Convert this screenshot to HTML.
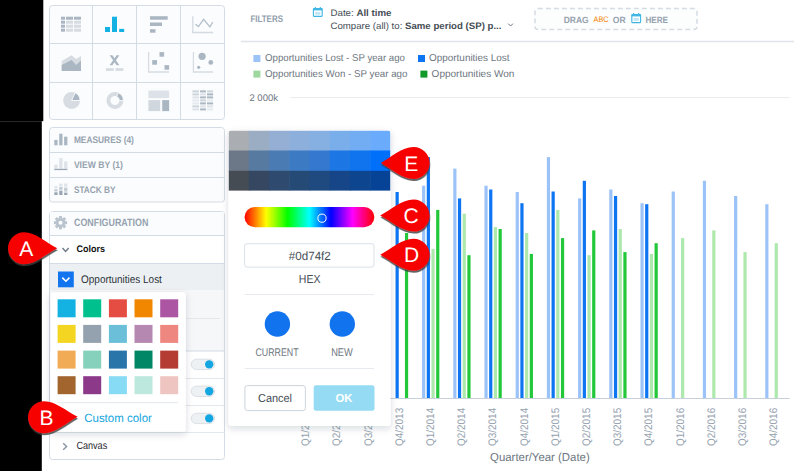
<!DOCTYPE html>
<html><head><meta charset="utf-8">
<style>
html,body{margin:0;padding:0;background:#fff;}
body{width:800px;height:471px;overflow:hidden;position:relative;font-family:"Liberation Sans", sans-serif;}
svg{position:absolute;left:0;top:0;}
text{font-family:"Liberation Sans", sans-serif;text-rendering:geometricPrecision;}
</style></head>
<body>
<svg width="800" height="471" viewBox="0 0 800 471">
<defs>
  <filter id="pshadow" x="-20%" y="-20%" width="140%" height="140%">
    <feDropShadow dx="0" dy="2.5" stdDeviation="3.5" flood-color="#1c2a38" flood-opacity="0.16"/>
  </filter>
  <filter id="cshadow" x="-20%" y="-20%" width="150%" height="150%">
    <feDropShadow dx="0.4" dy="2" stdDeviation="0.55" flood-color="#3a3a3a" flood-opacity="0.8"/>
  </filter>
  <linearGradient id="hue" x1="0" x2="1" y1="0" y2="0">
    <stop offset="0" stop-color="#ff0000"/>
    <stop offset="0.1667" stop-color="#ffff00"/>
    <stop offset="0.3333" stop-color="#00ff00"/>
    <stop offset="0.5" stop-color="#00ffff"/>
    <stop offset="0.6667" stop-color="#0000ff"/>
    <stop offset="0.8333" stop-color="#ff00ff"/>
    <stop offset="1" stop-color="#ff0000"/>
  </linearGradient>
  <clipPath id="shadeclip"><path d="M228.5,190.8 L228.5,133.5 A3,3 0 0 1 231.5,130.5 L387.5,130.5 A3,3 0 0 1 390.5,133.5 L390.5,190.8 Z"/></clipPath>
</defs>

<!-- black strip -->
<rect x="0" y="0" width="43.3" height="121.2" fill="#000"/>
<rect x="0" y="121.2" width="41.8" height="349.8" fill="#000"/>

<!-- ============ LEFT PANEL ============ -->
<!-- chart type grid -->
<rect x="49.5" y="5.5" width="175" height="114" rx="3" fill="#fbfcfd" stroke="#d3dce5"/>
<g stroke="#d3dce5">
  <line x1="92.5" y1="5.5" x2="92.5" y2="119.5"/>
  <line x1="136.5" y1="5.5" x2="136.5" y2="119.5"/>
  <line x1="180.5" y1="5.5" x2="180.5" y2="119.5"/>
  <line x1="49.5" y1="43.5" x2="224.5" y2="43.5"/>
  <line x1="49.5" y1="82.5" x2="224.5" y2="82.5"/>
</g>
<!-- table icon -->
<g>
  <rect x="61" y="16.7" width="4" height="3" fill="#aab7c3"/>
  <rect x="66" y="16.7" width="7" height="3" fill="#aab7c3"/>
  <rect x="74" y="16.7" width="7" height="3" fill="#aab7c3"/>
  <rect x="61" y="20.7" width="4" height="3" fill="#aab7c3"/>
  <rect x="66" y="20.7" width="7" height="3" fill="#d6dce2"/>
  <rect x="74" y="20.7" width="7" height="3" fill="#d6dce2"/>
  <rect x="61" y="24.7" width="4" height="3" fill="#aab7c3"/>
  <rect x="66" y="24.7" width="7" height="3" fill="#d6dce2"/>
  <rect x="74" y="24.7" width="7" height="3" fill="#d6dce2"/>
  <rect x="61" y="28.7" width="4" height="3" fill="#aab7c3"/>
  <rect x="66" y="28.7" width="7" height="3" fill="#d6dce2"/>
  <rect x="74" y="28.7" width="7" height="3" fill="#d6dce2"/>
</g>
<!-- column icon -->
<g fill="#14b2e2">
  <rect x="105" y="27" width="5" height="5"/>
  <rect x="112" y="16.7" width="5" height="15.3"/>
  <rect x="119.2" y="28.9" width="5" height="3.1"/>
</g>
<!-- bar icon -->
<g fill="#aab7c3">
  <rect x="150" y="16.2" width="17.7" height="3.5"/>
  <rect x="150" y="22.5" width="12" height="3.5"/>
  <rect x="150" y="29.2" width="5.5" height="3.5"/>
</g>
<!-- line icon -->
<g fill="none" stroke-width="1.3">
  <polyline points="192.8,16.2 192.8,32.5 213.1,32.5" stroke="#d3dae1"/>
  <polyline points="195.5,24.3 198.4,26.6 203.6,19.3 209.9,26.9 212.8,22" stroke="#b3bfca"/>
</g>
<!-- area icon -->
<polygon points="61.7,61.1 71.6,55.2 76.1,58.9 81,56.1 81,70.9 61.7,70.9" fill="#d6dce2"/>
<polygon points="61.7,65 71.6,60 76.1,65 81,60.5 81,70.9 61.7,70.9" fill="#aab7c3"/>
<!-- headline icon -->
<polygon points="109.6,55.2 112.4,55.2 119.4,65.3 116.6,65.3" fill="#aab7c3"/><polygon points="116.6,55.2 119.4,55.2 112.4,65.3 109.6,65.3" fill="#aab7c3"/>
<rect x="106" y="68.1" width="7.8" height="2.8" fill="#d6dce2"/>
<rect x="115.5" y="68.1" width="7.9" height="2.8" fill="#d6dce2"/>
<!-- scatter icon -->
<g fill="none" stroke="#d6dce2" stroke-width="1.3">
  <polyline points="148.6,52.1 148.6,72 169.1,72"/>
  <polyline points="193.4,52.1 193.4,72 213.1,72"/>
</g>
<g fill="#aab7c3">
  <rect x="159.5" y="52.1" width="4.6" height="4.6"/>
  <rect x="152.2" y="60.1" width="4.8" height="4.6"/>
  <rect x="164.5" y="65.1" width="4.6" height="4.6"/>
  <circle cx="202.1" cy="56.3" r="3.6"/>
  <circle cx="210.8" cy="62.4" r="2.4"/>
  <circle cx="198.7" cy="67.3" r="1.6"/>
</g>
<!-- pie icon -->
<circle cx="71.6" cy="100.5" r="8.45" fill="#d6dce2"/>
<path d="M71.6,100.5 L75.17,92.84 A8.45,8.45 0 0 1 80.05,100.5 Z" fill="#aab7c3" stroke="#fbfcfd" stroke-width="0.9"/>
<!-- donut icon -->
<circle cx="114.9" cy="100.5" r="6.5" fill="none" stroke="#d6dce2" stroke-width="3.9"/>
<path d="M118.47,92.84 A8.45,8.45 0 0 1 123.35,100.5 L119.45,100.5 A4.55,4.55 0 0 0 116.82,96.38 Z" fill="#aab7c3" stroke="#fbfcfd" stroke-width="0.8"/>
<!-- treemap icon -->
<rect x="148.4" y="90.6" width="20.7" height="7.5" fill="#dde2e8"/>
<rect x="148.4" y="100.1" width="11.8" height="11" fill="#d0d7de"/>
<rect x="162.2" y="100.1" width="6.9" height="11" fill="#aab7c3"/>
<!-- heatmap icon -->
<g>
  <rect x="192.4" y="90.4" width="6.6" height="2" fill="#ccd4dc"/><rect x="200.1" y="90.4" width="5.8" height="2" fill="#aab7c3"/><rect x="207" y="90.4" width="6.1" height="2" fill="#ccd4dc"/>
  <rect x="192.4" y="93.4" width="6.6" height="2" fill="#ccd4dc"/><rect x="200.1" y="93.4" width="5.8" height="2" fill="#dde2e8"/><rect x="207" y="93.4" width="6.1" height="2" fill="#aab7c3"/>
  <rect x="192.4" y="96.4" width="6.6" height="2" fill="#dde2e8"/><rect x="200.1" y="96.4" width="5.8" height="2" fill="#aab7c3"/><rect x="207" y="96.4" width="6.1" height="2" fill="#aab7c3"/>
  <rect x="192.4" y="99.4" width="6.6" height="2" fill="#e6eaee"/><rect x="200.1" y="99.4" width="5.8" height="2" fill="#ccd4dc"/><rect x="207" y="99.4" width="6.1" height="2" fill="#e6eaee"/>
  <rect x="192.4" y="102.4" width="6.6" height="2" fill="#e6eaee"/><rect x="200.1" y="102.4" width="5.8" height="2" fill="#aab7c3"/><rect x="207" y="102.4" width="6.1" height="2" fill="#aab7c3"/>
  <rect x="192.4" y="105.4" width="6.6" height="2" fill="#ccd4dc"/><rect x="200.1" y="105.4" width="5.8" height="2" fill="#dde2e8"/><rect x="207" y="105.4" width="6.1" height="2" fill="#dde2e8"/>
  <rect x="192.4" y="108.4" width="6.6" height="2" fill="#dde2e8"/><rect x="200.1" y="108.4" width="5.8" height="2" fill="#aab7c3"/><rect x="207" y="108.4" width="6.1" height="2" fill="#e6eaee"/>
</g>

<!-- measures box -->
<rect x="49.5" y="127.5" width="175" height="74.5" rx="3" fill="#fbfcfd" stroke="#d3dce5"/>
<line x1="49.5" y1="152.5" x2="224.5" y2="152.5" stroke="#d3dce5"/>
<line x1="49.5" y1="177.5" x2="224.5" y2="177.5" stroke="#d3dce5"/>
<g fill="#aab7c3">
  <rect x="54.3" y="139.9" width="3.3" height="5.4"/>
  <rect x="59.2" y="133.7" width="3.3" height="11.6"/>
  <rect x="64.1" y="136.7" width="3.3" height="8.6"/>
</g>
<g fill="#dfe4ea">
  <rect x="54.3" y="164.7" width="3.3" height="4"/>
  <rect x="59.2" y="158.1" width="3.3" height="10.6"/>
  <rect x="64.1" y="161.3" width="3.3" height="7.4"/>
</g>
<rect x="54.3" y="168.8" width="13.1" height="1.3" fill="#9aa7b4"/>
<g>
  <rect x="54.3" y="186.2" width="3.3" height="2" fill="#dfe4ea"/><rect x="54.3" y="189.2" width="3.3" height="2.2" fill="#c3ccd5"/><rect x="54.3" y="192.3" width="3.3" height="2.7" fill="#9aa7b4"/>
  <rect x="59.2" y="183.6" width="3.3" height="2.4" fill="#dfe4ea"/><rect x="59.2" y="186.8" width="3.3" height="3" fill="#c3ccd5"/><rect x="59.2" y="190.6" width="3.3" height="4.4" fill="#9aa7b4"/>
  <rect x="64.1" y="183.4" width="3.3" height="3.3" fill="#dfe4ea"/><rect x="64.1" y="187.6" width="3.3" height="4" fill="#c3ccd5"/><rect x="64.1" y="192.6" width="3.3" height="2.4" fill="#9aa7b4"/>
</g>
<g font-size="9.6" font-weight="700" fill="#95a2af">
  <text x="73.9" y="142.7" textLength="60" lengthAdjust="spacingAndGlyphs">MEASURES (4)</text>
  <text x="73.9" y="167.7" textLength="49" lengthAdjust="spacingAndGlyphs">VIEW BY (1)</text>
  <text x="73.9" y="193.2" textLength="41.6" lengthAdjust="spacingAndGlyphs">STACK BY</text>
</g>

<!-- config box -->
<rect x="49.5" y="211.5" width="175" height="248" rx="3" fill="#fff" stroke="#d3dce5"/>
<rect x="50" y="212" width="174" height="23" fill="#fbfcfd"/>
<rect x="50" y="264" width="174" height="26" fill="#edf0f3"/>
<rect x="50" y="290" width="174" height="61" fill="#f5f7f9"/>
<g stroke="#d3dce5">
  <line x1="49.5" y1="235.5" x2="224.5" y2="235.5"/>
  <line x1="49.5" y1="263.5" x2="224.5" y2="263.5"/>
  <line x1="57" y1="318.5" x2="220" y2="318.5" stroke="#e3e8ed"/>
  <line x1="49.5" y1="351" x2="224.5" y2="351"/>
  <line x1="49.5" y1="378.5" x2="224.5" y2="378.5" stroke="#e3e8ed"/>
  <line x1="49.5" y1="405.5" x2="224.5" y2="405.5" stroke="#e3e8ed"/>
  <line x1="49.5" y1="432.5" x2="224.5" y2="432.5" stroke="#e3e8ed"/>
</g>
<!-- gear -->
<g transform="translate(60.5,222.7)" fill="#b9c4ce">
  <circle r="4.8"/>
  <g>
    <rect x="-1.5" y="-6.6" width="3" height="13.2"/>
    <rect x="-1.5" y="-6.6" width="3" height="13.2" transform="rotate(45)"/>
    <rect x="-1.5" y="-6.6" width="3" height="13.2" transform="rotate(90)"/>
    <rect x="-1.5" y="-6.6" width="3" height="13.2" transform="rotate(135)"/>
  </g>
  <circle r="2" fill="#fbfcfd"/>
</g>
<text x="74" y="226.4" font-size="10.6" font-weight="700" fill="#95a2af" textLength="74.3" lengthAdjust="spacingAndGlyphs">CONFIGURATION</text>
<polyline points="62.5,248 65.6,251.4 68.7,248" fill="none" stroke="#6d7a88" stroke-width="1.4"/>
<text x="76.4" y="252.4" font-size="9.6" font-weight="700" fill="#111" textLength="28.5" lengthAdjust="spacingAndGlyphs">Colors</text>
<rect x="58" y="271.5" width="15.8" height="15.8" fill="#1274ef"/>
<polyline points="62.3,277.6 65.9,281.2 69.5,277.6" fill="none" stroke="#fff" stroke-width="1.6"/>
<text x="81.1" y="283.1" font-size="11" fill="#2a3038" textLength="80.8" lengthAdjust="spacingAndGlyphs">Opportunities Lost</text>
<!-- toggles -->
<g>
  <rect x="191.2" y="359.2" width="23.4" height="10.4" rx="5.2" fill="#eef1f4" stroke="#d3dae1" stroke-width="0.8"/>
  <circle cx="209.2" cy="364.4" r="4.2" fill="#14a6e0"/>
  <rect x="191.2" y="386.1" width="23.4" height="10.4" rx="5.2" fill="#eef1f4" stroke="#d3dae1" stroke-width="0.8"/>
  <circle cx="209.2" cy="391.3" r="4.2" fill="#14a6e0"/>
  <rect x="191.2" y="413.2" width="23.4" height="10.4" rx="5.2" fill="#eef1f4" stroke="#d3dae1" stroke-width="0.8"/>
  <circle cx="209.2" cy="418.4" r="4.2" fill="#14a6e0"/>
</g>
<polyline points="63.2,443.2 66.6,446.5 63.2,449.8" fill="none" stroke="#8593a1" stroke-width="1.4"/>
<text x="76.4" y="449.4" font-size="10.5" fill="#1f252b" textLength="30.8" lengthAdjust="spacingAndGlyphs">Canvas</text>

<!-- swatch popup -->
<rect x="50.5" y="292.3" width="135.3" height="139.5" rx="3" fill="#fff" filter="url(#pshadow)"/>
<g>
  <rect x="57.6" y="299.3" width="18" height="18" fill="#14b2e2"/>
  <rect x="83.2" y="299.3" width="18" height="18" fill="#00c18d"/>
  <rect x="108.9" y="299.3" width="18" height="18" fill="#e54d42"/>
  <rect x="134.5" y="299.3" width="18" height="18" fill="#f18600"/>
  <rect x="160.2" y="299.3" width="18" height="18" fill="#ab55a3"/>
  <rect x="57.6" y="324.9" width="18" height="18" fill="#f4d521"/>
  <rect x="83.2" y="324.9" width="18" height="18" fill="#94a1ae"/>
  <rect x="108.9" y="324.9" width="18" height="18" fill="#6bbfd8"/>
  <rect x="134.5" y="324.9" width="18" height="18" fill="#b588b1"/>
  <rect x="160.2" y="324.9" width="18" height="18" fill="#ee8780"/>
  <rect x="57.6" y="350.6" width="18" height="18" fill="#f1ab54"/>
  <rect x="83.2" y="350.6" width="18" height="18" fill="#85d1bc"/>
  <rect x="108.9" y="350.6" width="18" height="18" fill="#2975aa"/>
  <rect x="134.5" y="350.6" width="18" height="18" fill="#028766"/>
  <rect x="160.2" y="350.6" width="18" height="18" fill="#b53c33"/>
  <rect x="57.6" y="376.2" width="18" height="18" fill="#a3652e"/>
  <rect x="83.2" y="376.2" width="18" height="18" fill="#8c398a"/>
  <rect x="108.9" y="376.2" width="18" height="18" fill="#88dbf4"/>
  <rect x="134.5" y="376.2" width="18" height="18" fill="#bde8de"/>
  <rect x="160.2" y="376.2" width="18" height="18" fill="#efc5c2"/>
</g>
<line x1="57.6" y1="402.7" x2="178.2" y2="402.7" stroke="#e3e8ed"/>
<text x="84.2" y="421.9" font-size="11.9" fill="#14a6e0" textLength="67.7" lengthAdjust="spacingAndGlyphs">Custom color</text>

<!-- ============ FILTER BAR ============ -->
<line x1="241" y1="41.5" x2="794" y2="41.5" stroke="#dde4eb" stroke-width="1.4"/>
<text x="250.4" y="21.6" font-size="9.6" font-weight="700" fill="#919eab" textLength="32.6" lengthAdjust="spacingAndGlyphs">FILTERS</text>
<!-- calendar icon -->
<g fill="none" stroke="#3fb6e6" stroke-width="1.1">
  <rect x="313.4" y="8.6" width="8.8" height="7.8" rx="0.6"/>
  <line x1="315.3" y1="7" x2="315.3" y2="9"/>
  <line x1="320.3" y1="7" x2="320.3" y2="9"/>
</g>
<rect x="313.4" y="8.6" width="8.8" height="1.8" fill="#3fb6e6"/>
<rect x="315.2" y="12" width="5.2" height="2.8" fill="#bfe6f6"/>
<text x="330.5" y="15.9" font-size="9.4" fill="#464e56" textLength="61" lengthAdjust="spacingAndGlyphs">Date: <tspan font-weight="700">All time</tspan></text>
<text x="330.5" y="28.5" font-size="9.4" fill="#464e56" textLength="171" lengthAdjust="spacingAndGlyphs">Compare (all) to: <tspan font-weight="700">Same period (SP) p...</tspan></text>
<polyline points="508.2,23.6 510.6,26 513,23.6" fill="none" stroke="#6d7680" stroke-width="1"/>
<!-- drag box -->
<rect x="535" y="8.5" width="162" height="21" rx="3" fill="#fcfdfd" stroke="#d3dbe3" stroke-width="1.5" stroke-dasharray="4.8 3.2"/>
<g font-size="9" font-weight="700" fill="#95a2af">
  <text x="563.7" y="22.5" textLength="25" lengthAdjust="spacingAndGlyphs">DRAG</text>
  <text x="612.8" y="22.5" textLength="12.8" lengthAdjust="spacingAndGlyphs">OR</text>
  <text x="645.4" y="22.5" textLength="22.5" lengthAdjust="spacingAndGlyphs">HERE</text>
</g>
<text x="593.6" y="22.2" font-size="8" fill="#f18600" textLength="15" lengthAdjust="spacingAndGlyphs">ABC</text>
<g fill="none" stroke="#3fb6e6" stroke-width="1.1">
  <rect x="631.8" y="14.6" width="8.8" height="8" rx="0.6"/>
  <line x1="633.7" y1="13" x2="633.7" y2="15"/>
  <line x1="638.7" y1="13" x2="638.7" y2="15"/>
</g>
<rect x="631.8" y="14.6" width="8.8" height="1.8" fill="#3fb6e6"/>
<rect x="633.6" y="18" width="5.2" height="2.8" fill="#bfe6f6"/>

<!-- ============ LEGEND ============ -->
<rect x="253.4" y="55" width="7" height="7" fill="#9cc3f8"/>
<rect x="253.4" y="70.6" width="7" height="7" fill="#9fd89f"/>
<rect x="418" y="55" width="7" height="7" fill="#0d74f2"/>
<rect x="420.4" y="70.6" width="7" height="7" fill="#119a2a"/>
<g font-size="10" fill="#6d7680">
  <text x="265" y="61.3" textLength="140" lengthAdjust="spacingAndGlyphs">Opportunities Lost - SP year ago</text>
  <text x="265" y="77.3" textLength="142.4" lengthAdjust="spacingAndGlyphs">Opportunities Won - SP year ago</text>
  <text x="429" y="61.3" textLength="80.6" lengthAdjust="spacingAndGlyphs">Opportunities Lost</text>
  <text x="431.6" y="77.3" textLength="82.8" lengthAdjust="spacingAndGlyphs">Opportunities Won</text>
</g>

<!-- ============ CHART ============ -->
<text x="249.4" y="101" font-size="9.5" fill="#6d7680" textLength="28.6" lengthAdjust="spacingAndGlyphs">2 000k</text>
<line x1="290" y1="97.5" x2="790" y2="97.5" stroke="#ebeef1"/>
<g>
<rect x="301.95" y="185.7" width="3.2" height="212.3" fill="#0d74f2"/>
<rect x="311.35" y="248.9" width="3.2" height="149.1" fill="#22c83a"/>
<rect x="333.15" y="168.6" width="3.2" height="229.4" fill="#0d74f2"/>
<rect x="342.55" y="213.7" width="3.2" height="184.3" fill="#22c83a"/>
<rect x="364.35" y="185.7" width="3.2" height="212.3" fill="#0d74f2"/>
<rect x="373.75" y="227.0" width="3.2" height="171.0" fill="#22c83a"/>
<rect x="395.55" y="192.0" width="3.2" height="206.0" fill="#0d74f2"/>
<rect x="404.95" y="233.0" width="3.2" height="165.0" fill="#22c83a"/>
<rect x="422.05" y="185.7" width="3.2" height="212.3" fill="#9cc3f8"/>
<rect x="426.75" y="157.1" width="3.2" height="240.9" fill="#0d74f2"/>
<rect x="431.45" y="248.9" width="3.2" height="149.1" fill="#ade8ad"/>
<rect x="436.15" y="209.9" width="3.2" height="188.1" fill="#22c83a"/>
<rect x="453.25" y="168.6" width="3.2" height="229.4" fill="#9cc3f8"/>
<rect x="457.95" y="198.4" width="3.2" height="199.6" fill="#0d74f2"/>
<rect x="462.65" y="213.7" width="3.2" height="184.3" fill="#ade8ad"/>
<rect x="467.35" y="255.2" width="3.2" height="142.8" fill="#22c83a"/>
<rect x="484.45" y="185.7" width="3.2" height="212.3" fill="#9cc3f8"/>
<rect x="489.15" y="189.5" width="3.2" height="208.5" fill="#0d74f2"/>
<rect x="493.85" y="227.0" width="3.2" height="171.0" fill="#ade8ad"/>
<rect x="498.55" y="229.0" width="3.2" height="169.0" fill="#22c83a"/>
<rect x="515.65" y="192.0" width="3.2" height="206.0" fill="#9cc3f8"/>
<rect x="520.35" y="203.2" width="3.2" height="194.8" fill="#0d74f2"/>
<rect x="525.05" y="233.0" width="3.2" height="165.0" fill="#ade8ad"/>
<rect x="529.75" y="253.9" width="3.2" height="144.1" fill="#22c83a"/>
<rect x="546.85" y="157.1" width="3.2" height="240.9" fill="#9cc3f8"/>
<rect x="551.55" y="191.5" width="3.2" height="206.5" fill="#0d74f2"/>
<rect x="556.25" y="209.9" width="3.2" height="188.1" fill="#ade8ad"/>
<rect x="560.95" y="238.1" width="3.2" height="159.9" fill="#22c83a"/>
<rect x="578.05" y="198.4" width="3.2" height="199.6" fill="#9cc3f8"/>
<rect x="582.75" y="180.8" width="3.2" height="217.2" fill="#0d74f2"/>
<rect x="587.45" y="255.2" width="3.2" height="142.8" fill="#ade8ad"/>
<rect x="592.15" y="230.4" width="3.2" height="167.6" fill="#22c83a"/>
<rect x="609.25" y="189.5" width="3.2" height="208.5" fill="#9cc3f8"/>
<rect x="613.95" y="196.0" width="3.2" height="202.0" fill="#0d74f2"/>
<rect x="618.65" y="229.0" width="3.2" height="169.0" fill="#ade8ad"/>
<rect x="623.35" y="252.1" width="3.2" height="145.9" fill="#22c83a"/>
<rect x="640.45" y="203.2" width="3.2" height="194.8" fill="#9cc3f8"/>
<rect x="645.15" y="204.2" width="3.2" height="193.8" fill="#0d74f2"/>
<rect x="649.85" y="253.9" width="3.2" height="144.1" fill="#ade8ad"/>
<rect x="654.55" y="243.2" width="3.2" height="154.8" fill="#22c83a"/>
<rect x="671.65" y="191.5" width="3.2" height="206.5" fill="#9cc3f8"/>
<rect x="681.05" y="238.1" width="3.2" height="159.9" fill="#ade8ad"/>
<rect x="702.85" y="180.8" width="3.2" height="217.2" fill="#9cc3f8"/>
<rect x="712.25" y="230.4" width="3.2" height="167.6" fill="#ade8ad"/>
<rect x="734.05" y="196.0" width="3.2" height="202.0" fill="#9cc3f8"/>
<rect x="743.45" y="252.1" width="3.2" height="145.9" fill="#ade8ad"/>
<rect x="765.25" y="204.2" width="3.2" height="193.8" fill="#9cc3f8"/>
<rect x="774.65" y="243.2" width="3.2" height="154.8" fill="#ade8ad"/>
</g>
<line x1="290" y1="398.5" x2="789.6" y2="398.5" stroke="#c5d0dc"/>
<g font-size="11" fill="#95a2af">
<text x="0" y="0" transform="translate(309.2,446) rotate(-90)" textLength="38.2" lengthAdjust="spacingAndGlyphs">Q1/2013</text>
<text x="0" y="0" transform="translate(340.4,446) rotate(-90)" textLength="38.2" lengthAdjust="spacingAndGlyphs">Q2/2013</text>
<text x="0" y="0" transform="translate(371.6,446) rotate(-90)" textLength="38.2" lengthAdjust="spacingAndGlyphs">Q3/2013</text>
<text x="0" y="0" transform="translate(402.8,446) rotate(-90)" textLength="38.2" lengthAdjust="spacingAndGlyphs">Q4/2013</text>
<text x="0" y="0" transform="translate(434.0,446) rotate(-90)" textLength="38.2" lengthAdjust="spacingAndGlyphs">Q1/2014</text>
<text x="0" y="0" transform="translate(465.2,446) rotate(-90)" textLength="38.2" lengthAdjust="spacingAndGlyphs">Q2/2014</text>
<text x="0" y="0" transform="translate(496.4,446) rotate(-90)" textLength="38.2" lengthAdjust="spacingAndGlyphs">Q3/2014</text>
<text x="0" y="0" transform="translate(527.6,446) rotate(-90)" textLength="38.2" lengthAdjust="spacingAndGlyphs">Q4/2014</text>
<text x="0" y="0" transform="translate(558.8,446) rotate(-90)" textLength="38.2" lengthAdjust="spacingAndGlyphs">Q1/2015</text>
<text x="0" y="0" transform="translate(590.0,446) rotate(-90)" textLength="38.2" lengthAdjust="spacingAndGlyphs">Q2/2015</text>
<text x="0" y="0" transform="translate(621.2,446) rotate(-90)" textLength="38.2" lengthAdjust="spacingAndGlyphs">Q3/2015</text>
<text x="0" y="0" transform="translate(652.4,446) rotate(-90)" textLength="38.2" lengthAdjust="spacingAndGlyphs">Q4/2015</text>
<text x="0" y="0" transform="translate(683.6,446) rotate(-90)" textLength="38.2" lengthAdjust="spacingAndGlyphs">Q1/2016</text>
<text x="0" y="0" transform="translate(714.8,446) rotate(-90)" textLength="38.2" lengthAdjust="spacingAndGlyphs">Q2/2016</text>
<text x="0" y="0" transform="translate(746.0,446) rotate(-90)" textLength="38.2" lengthAdjust="spacingAndGlyphs">Q3/2016</text>
<text x="0" y="0" transform="translate(777.2,446) rotate(-90)" textLength="38.2" lengthAdjust="spacingAndGlyphs">Q4/2016</text>
</g>
<text x="490.1" y="460.6" font-size="11.6" fill="#6d7680" textLength="99.6" lengthAdjust="spacingAndGlyphs">Quarter/Year (Date)</text>

<!-- ============ COLOR PICKER POPUP ============ -->
<rect x="228.5" y="130.5" width="162" height="295.5" rx="3" fill="#fff" filter="url(#pshadow)"/>
<g clip-path="url(#shadeclip)">
  <rect x="228.5" y="130.5" width="20.85" height="20.60" fill="#aaaeb3"/>
  <rect x="248.75" y="130.5" width="20.85" height="20.60" fill="#9aadc3"/>
  <rect x="269.0" y="130.5" width="20.85" height="20.60" fill="#94aed4"/>
  <rect x="289.25" y="130.5" width="20.85" height="20.60" fill="#8cafdc"/>
  <rect x="309.5" y="130.5" width="20.85" height="20.60" fill="#86b0e2"/>
  <rect x="329.75" y="130.5" width="20.85" height="20.60" fill="#7aaeea"/>
  <rect x="350.0" y="130.5" width="20.85" height="20.60" fill="#72acf2"/>
  <rect x="370.25" y="130.5" width="20.25" height="20.60" fill="#6aabfc"/>
  <rect x="228.5" y="150.5" width="20.85" height="20.90" fill="#6c7887"/>
  <rect x="248.75" y="150.5" width="20.85" height="20.90" fill="#577aa1"/>
  <rect x="269.0" y="150.5" width="20.85" height="20.90" fill="#4a7bb3"/>
  <rect x="289.25" y="150.5" width="20.85" height="20.90" fill="#3d7ac4"/>
  <rect x="309.5" y="150.5" width="20.85" height="20.90" fill="#3478cf"/>
  <rect x="329.75" y="150.5" width="20.85" height="20.90" fill="#1c76e3"/>
  <rect x="350.0" y="150.5" width="20.85" height="20.90" fill="#0f74ed"/>
  <rect x="370.25" y="150.5" width="20.25" height="20.90" fill="#0070fa"/>
  <rect x="228.5" y="170.8" width="20.85" height="20.00" fill="#464c54"/>
  <rect x="248.75" y="170.8" width="20.85" height="20.00" fill="#364761"/>
  <rect x="269.0" y="170.8" width="20.85" height="20.00" fill="#2e4a6e"/>
  <rect x="289.25" y="170.8" width="20.85" height="20.00" fill="#264a76"/>
  <rect x="309.5" y="170.8" width="20.85" height="20.00" fill="#1f4a80"/>
  <rect x="329.75" y="170.8" width="20.85" height="20.00" fill="#164687"/>
  <rect x="350.0" y="170.8" width="20.85" height="20.00" fill="#0d458f"/>
  <rect x="370.25" y="170.8" width="20.25" height="20.00" fill="#064397"/>
</g>
<rect x="244.6" y="207.1" width="129.7" height="20.1" rx="10" fill="url(#hue)"/>
<circle cx="322" cy="218.2" r="4.1" fill="none" stroke="#fff" stroke-width="1"/>
<rect x="244.6" y="243.7" width="129.4" height="23.4" rx="2.5" fill="#fff" stroke="#d9e0e7"/>
<text x="288.8" y="259.7" font-size="12" fill="#464e56" textLength="42" lengthAdjust="spacingAndGlyphs">#0d74f2</text>
<text x="298.8" y="283.3" font-size="11.6" fill="#464e56" textLength="21.7" lengthAdjust="spacingAndGlyphs">HEX</text>
<line x1="244.7" y1="294.5" x2="374" y2="294.5" stroke="#e6eaee"/>
<circle cx="277.4" cy="324" r="12.7" fill="#1273ee"/>
<circle cx="342.3" cy="324" r="12.7" fill="#1273ee"/>
<text x="255.4" y="355.9" font-size="11.2" fill="#6d7680" textLength="43.2" lengthAdjust="spacingAndGlyphs">CURRENT</text>
<text x="331.2" y="355.9" font-size="11.2" fill="#6d7680" textLength="21.6" lengthAdjust="spacingAndGlyphs">NEW</text>
<line x1="244.7" y1="368.5" x2="374" y2="368.5" stroke="#e6eaee"/>
<rect x="244.9" y="385.6" width="60.5" height="25" rx="2.5" fill="#fff" stroke="#ccd4dc"/>
<text x="258" y="402.2" font-size="11.5" fill="#464e56" textLength="34" lengthAdjust="spacingAndGlyphs">Cancel</text>
<rect x="313.7" y="385.3" width="60.8" height="25.5" rx="2.5" fill="#94dbf3"/>
<text x="335.5" y="402.2" font-size="11.5" font-weight="700" fill="#fff" textLength="17" lengthAdjust="spacingAndGlyphs">OK</text>

<!-- ============ CALLOUTS ============ -->
<g filter="url(#cshadow)" fill="#f70000">
  <path d="M24,232.2 A16,16 0 1 0 24,264.2 C36,264.2 46,254 57.3,248.3 C46,242.5 36,232.2 24,232.2 Z"/>
  <path d="M44,401.2 A16,16 0 1 0 44,433.2 C56,433.2 66,423 77.7,416.8 C66,411 56,401.2 44,401.2 Z"/>
  <path d="M413.6,147 A16,16 0 1 1 413.6,179 C401.6,179 391.6,169 380.8,163 C391.6,157 401.6,147 413.6,147 Z"/>
  <path d="M413.6,199.6 A16,16 0 1 1 413.6,231.6 C401.6,231.6 391.6,221.6 380.2,215.6 C391.6,209.6 401.6,199.6 413.6,199.6 Z"/>
  <path d="M413.6,238.8 A16,16 0 1 1 413.6,270.8 C401.6,270.8 391.6,260.8 380.2,254.8 C391.6,248.8 401.6,238.8 413.6,238.8 Z"/>
</g>
<g font-size="21" fill="#fff" text-anchor="middle">
  <text x="26.2" y="256.3">A</text>
  <text x="46.4" y="425.1">B</text>
  <text x="411.3" y="171.3">E</text>
  <text x="411.2" y="223.3">C</text>
  <text x="411.5" y="262.1">D</text>
</g>
</svg>
</body></html>
